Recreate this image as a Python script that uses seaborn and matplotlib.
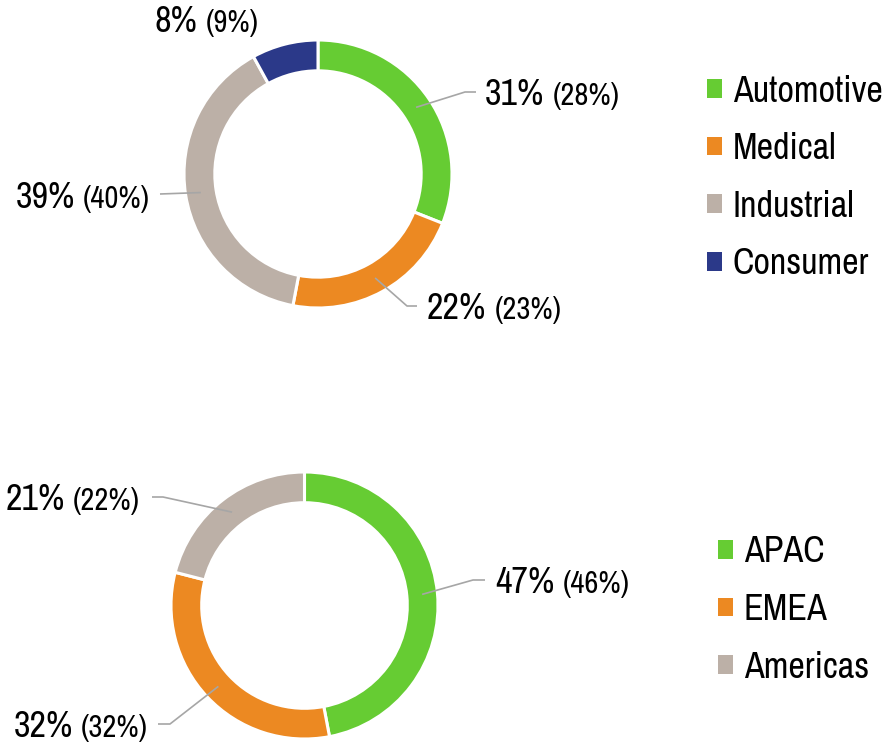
import numpy as np
import matplotlib
matplotlib.use("Agg")
import matplotlib.pyplot as plt
from matplotlib.patches import Patch
from matplotlib.transforms import IdentityTransform
import seaborn as sns

# ---- data ----
segments = ["Automotive", "Medical", "Industrial", "Consumer"]
segment_share = [31, 22, 39, 8]
segment_prior = [28, 23, 40, 9]

regions = ["APAC", "EMEA", "Americas"]
region_share = [47, 32, 21]
region_prior = [46, 32, 22]

sns.set_theme(style="white")
plt.rcParams['font.family'] = ['Archivo Narrow', 'DejaVu Sans']
plt.rcParams['text.color'] = 'black'

palette = sns.color_palette(["#66CC33", "#EC8922", "#BCB0A7", "#2B3989"])

W, H = 890, 744
fig = plt.figure(figsize=(W / 100, H / 100), dpi=100)
BIG, SMALL = 26, 22
LINE_C = "#A6A6A6"
GAP = 8


def donut(cx, cy, R, values, colors):
    ax = fig.add_axes([(cx - R) / W, (H - cy - R) / H, 2 * R / W, 2 * R / H])
    wedges, _ = ax.pie(values, colors=colors, startangle=90, counterclock=False,
                       radius=1, wedgeprops=dict(width=0.23, edgecolor='white', linewidth=2.2))
    ax.set_xlim(-1, 1)
    ax.set_ylim(-1, 1)
    ax.set_aspect('equal')
    ax.axis('off')
    return ax, wedges


def label(ax, cx, cy, R, wedge, share, prior, spec, renderer):
    elbow, end, tx, base, ha = spec
    if elbow is not None:
        th = np.deg2rad((wedge.theta1 + wedge.theta2) / 2)
        r = 0.885
        xs = [r * np.cos(th), (elbow[0] - cx) / R, (end[0] - cx) / R]
        ys = [r * np.sin(th), (cy - elbow[1]) / R, (cy - end[1]) / R]
        ax.plot(xs, ys, color=LINE_C, lw=1.2, solid_capstyle='butt', clip_on=False)
    yd = H - base
    tr = IdentityTransform()
    if ha == 'left':
        t1 = fig.text(tx, yd, f"{share}%", transform=tr, fontsize=BIG, ha='left', va='baseline')
        bb = t1.get_window_extent(renderer)
        fig.text(bb.x1 + GAP, yd, f"({prior}%)", transform=tr, fontsize=SMALL, ha='left', va='baseline')
    else:
        t2 = fig.text(tx, yd, f"({prior}%)", transform=tr, fontsize=SMALL, ha='right', va='baseline')
        bb = t2.get_window_extent(renderer)
        fig.text(bb.x0 - GAP, yd, f"{share}%", transform=tr, fontsize=BIG, ha='right', va='baseline')


renderer = fig.canvas.get_renderer()

# top donut
cx1, cy1, R1 = 318, 174, 134
ax1, w1 = donut(cx1, cy1, R1, segment_share, palette[:4])
specs1 = [
    ((465, 92), (476, 92), 485, 105, 'left'),
    ((407, 306), (417, 306), 427, 319, 'left'),
    ((160, 194), (160, 194), 150, 208, 'right'),
    (None, None, 155, 32, 'left'),
]
for w, s, p, sp in zip(w1, segment_share, segment_prior, specs1):
    label(ax1, cx1, cy1, R1, w, s, p, sp, renderer)

# bottom donut
cx2, cy2, R2 = 304.5, 605.5, 133.5
ax2, w2 = donut(cx2, cy2, R2, region_share, palette[:3])
specs2 = [
    ((473, 580), (485, 580), 495, 593, 'left'),
    ((170, 724), (158, 724), 148, 737, 'right'),
    ((163, 497), (152, 497), 140, 510, 'right'),
]
for w, s, p, sp in zip(w2, region_share, region_prior, specs2):
    label(ax2, cx2, cy2, R2, w, s, p, sp, renderer)

# legends
def legend(names, colors, x, y):
    handles = [Patch(facecolor=c, edgecolor='none') for c in colors]
    fig.legend(handles, names, loc='upper left', bbox_to_anchor=(x / W, 1 - y / H),
               frameon=False, fontsize=BIG, handlelength=0.415, handleheight=0.415,
               handletextpad=0.3, labelspacing=0.68, borderpad=0, borderaxespad=0)

legend(segments, palette[:4], 707, 74.5)
legend(regions, palette[:3], 718, 535.5)

fig.savefig("out.png", dpi=100, facecolor='white')
